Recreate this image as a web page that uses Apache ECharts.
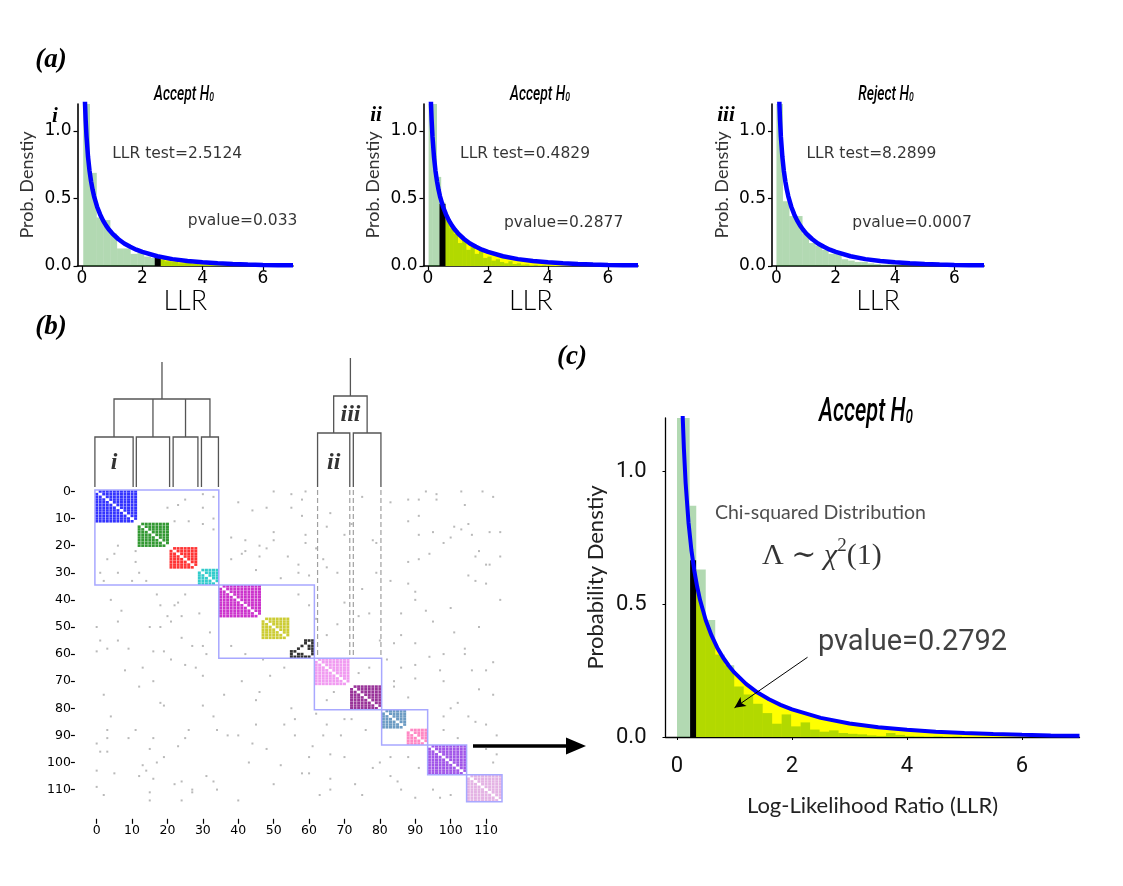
<!DOCTYPE html>
<html lang="en">
<head>
  <meta charset="UTF-8">
  <title>LLR test figure</title>
  <style>
    html, body { margin: 0; padding: 0; background: #fff; }
    #chart { width: 1123px; height: 886px; }
  </style>
</head>
<body>
  <div id="chart"></div>
  <script src="https://cdn.jsdelivr.net/npm/echarts@6/dist/echarts.min.js"></script>
  <script>
    const chart = echarts.init(document.getElementById('chart'));

    // chi-squared(1) density
    const curveX = [0.05, 0.07, 0.085, 0.1, 0.12, 0.15, 0.2, 0.25, 0.3, 0.35, 0.4, 0.5, 0.6, 0.7, 0.8, 0.9, 1.0,
      1.2, 1.4, 1.6, 1.8, 2.0, 2.5, 3.0, 3.5, 4.0, 4.5, 5.0, 5.5, 6.0, 6.5, 7.0];
    const curveY = [1.74, 1.46, 1.31, 1.2, 1.085, 0.956, 0.807, 0.704, 0.627, 0.566, 0.516, 0.439, 0.382, 0.336, 0.299, 0.268, 0.242,
      0.2, 0.167, 0.142, 0.121, 0.104, 0.072, 0.051, 0.037, 0.027, 0.02, 0.015, 0.011, 0.008, 0.006, 0.005];

    // panel (a) histograms: first edge, bin width, bar heights
    const histStart = [0.04, 0.02, 0.0];
    const histWidth = [0.225, 0.14, 0.22];
    const histI = [1.5, 0.69, 0.36, 0.34, 0.24, 0.13, 0.13, 0.09, 0.1, 0.07, 0.06, 0.045, 0.035, 0.03, 0.02, 0.025,
      0.015, 0.012, 0.01, 0.008, 0.006, 0.005, 0.004, 0.003];
    const histII = [1.6, 1.25, 0.66, 0.47, 0.34, 0.28, 0.24, 0.17, 0.19, 0.12, 0.14, 0.09, 0.11, 0.06, 0.07, 0.04,
      0.05, 0.03, 0.02, 0.035, 0.015, 0.02, 0.01, 0.012, 0.005, 0.008, 0.004, 0.006, 0.003, 0.002];
    const histIII = [1.5, 0.48, 0.37, 0.37, 0.24, 0.17, 0.15, 0.12, 0.09, 0.09, 0.05, 0.04, 0.03, 0.03, 0.02, 0.015,
      0.01, 0.012, 0.006, 0.005, 0.004];
    const histA = [histI, histII, histIII];

    const llrTest = [2.5124, 0.4829, 8.2899];
    const llrDensity = [0.075, 0.46, null];
    const pValues = ['0.033', '0.2877', '0.0007'];
    const verdicts = ['Accept', 'Accept', 'Reject'];
    const romans = ['i', 'ii', 'iii'];

    // panel (c) histogram
    const cEdges = [0.0, 0.22, 0.335, 0.5, 0.665, 0.83, 0.995, 1.16, 1.325, 1.49, 1.655, 1.82, 1.985, 2.15, 2.315, 2.48,
      2.645, 2.81, 2.975, 3.14, 3.305, 3.47, 3.635, 3.8, 3.965, 4.13, 4.295, 4.46, 4.625, 4.79, 4.955];
    const cHeights = [1.6, 0.87, 0.63, 0.44, 0.31, 0.27, 0.19, 0.16, 0.125, 0.09, 0.05, 0.085, 0.04, 0.055, 0.028, 0.02,
      0.025, 0.015, 0.012, 0.01, 0.006, 0.004, 0.015, 0.008, 0.004, 0.003, 0.002, 0.003, 0.001, 0.002];
    const cTest = 0.28;
    const cDensity = 0.665;
    const cPvalue = '0.2792';

    // panel (b): node clusters of the adjacency matrix
    const clusterBox = [[0, 34], [35, 61], [62, 80], [81, 93], [94, 104], [105, 114]];
    const blocks = [[0, 11], [12, 20], [21, 28], [29, 34], [35, 46], [47, 54], [62, 71], [72, 80], [81, 87], [88, 93], [94, 104], [105, 114]];
    const blockColors = ['#0000ff', '#008000', '#ff0000', '#00bfbf', '#bf00bf', '#bfbf00', '#ee82ee', '#800080', '#4682b4', '#ff69b4', '#8a2be2', '#dda0dd'];
    const blackEdges = [[55, 59], [55, 60], [55, 61], [56, 61], [57, 61], [58, 61], [59, 61], [60, 61], [57, 60], [58, 60], [56, 59], [57, 58]];
    // off-block links [row, col], upper triangle
    const noiseEdges = [
      [0, 50], [1, 55], [0, 59], [0, 93], [1, 96], [0, 109], [2, 112], [5, 104], [3, 96], [4, 83], [2, 75], [8, 66], [9, 58], [6, 48],
      [1, 30], [3, 25], [5, 23], [6, 20], [2, 33], [6, 30], [10, 33], [4, 40], [7, 44],
      [11, 22], [11, 26], [12, 30], [14, 33], [13, 65], [15, 50], [18, 50], [16, 59], [19, 59], [19, 79], [15, 95], [14, 103],
      [12, 105], [15, 111], [15, 114], [13, 101], [17, 38], [18, 42], [20, 46], [16, 70], [11, 88],
      [21, 62], [22, 108], [24, 107], [27, 110], [27, 111], [24, 114], [23, 94], [26, 88], [28, 65], [30, 68], [30, 79], [31, 105],
      [33, 107], [34, 110], [34, 88], [33, 83], [22, 42], [24, 46], [24, 54], [23, 41], [27, 57], [29, 45], [32, 52], [25, 38], [31, 60],
      [37, 90], [43, 100], [40, 114], [44, 93], [45, 86], [40, 90], [36, 75], [45, 77], [46, 74], [49, 68], [53, 65], [52, 101],
      [56, 84], [56, 90], [53, 86], [38, 57], [42, 60], [48, 95], [50, 108], [55, 80], [58, 104], [60, 98], [41, 70], [47, 62],
      [61, 94], [60, 104], [63, 112], [66, 106], [66, 110], [64, 90], [65, 86], [70, 98], [66, 97], [78, 102], [80, 100], [83, 105],
      [83, 98], [88, 98], [91, 102], [76, 88], [70, 84], [72, 84], [65, 77], [67, 74], [69, 90], [62, 82], [73, 108], [75, 112],
      [86, 110], [90, 113], [85, 107], [95, 110], [97, 113], [100, 112],
      [21, 48], [30, 57], [25, 64], [12, 72], [18, 78], [3, 88], [3, 91], [9, 91], [16, 91], [25, 91], [19, 98], [17, 100],
      [0, 103], [16, 106], [6, 55], [3, 58]
    ];
    const matrixTicks = [0, 10, 20, 30, 40, 50, 60, 70, 80, 90, 100, 110];

    // dendrogram: leaf spans and merge heights
    const leftLeaves = [[-0.5, 10.3], [11.2, 20.6], [21.6, 28.6], [29.6, 34.4]];
    const rightLeaves = [[62.4, 71.5], [72.5, 80.3]];
    const leftLevels = [50, 88, 125];
    const rightLevels = [54, 91, 129];

    const curve = curveX.map((x, i) => [x, curveY[i]]);
    const tailOf = (t, d) => [[t, d]].concat(curve.filter(p => p[0] > t));

    function treePaths(leaves, lv) {
      const paths = leaves.map(l => [[l[0], 0], [l[0], lv[0]], [l[1], lv[0]], [l[1], 0]]);
      const mids = leaves.map(l => (l[0] + l[1]) / 2);
      const a = mids[0], b = mids[mids.length - 1];
      paths.push([[a, lv[0]], [a, lv[1]], [b, lv[1]], [b, lv[0]]]);
      mids.slice(1, -1).forEach(m => paths.push([[m, lv[0]], [m, lv[1]]]));
      paths.push([[(a + b) / 2, lv[1]], [(a + b) / 2, lv[2]]]);
      return paths;
    }
    const dendroPaths = treePaths(leftLeaves, leftLevels).concat(treePaths(rightLeaves, rightLevels));

    function renderBars(params, api) {
      const p0 = api.coord([api.value(0), 0]);
      const p1 = api.coord([api.value(1), api.value(2)]);
      const cs = params.coordSys;
      const rect = echarts.graphic.clipRectByRect(
        { x: p0[0], y: p1[1], width: p1[0] - p0[0], height: p0[1] - p1[1] },
        { x: cs.x, y: cs.y, width: cs.width, height: cs.height });
      return rect && { type: 'rect', shape: rect, style: { fill: 'rgba(0,128,0,0.3)' } };
    }

    const sans = 'DejaVu Sans';
    const light = 'Lato';
    const serif = "'Liberation Serif', 'DejaVu Serif', serif";

    const grids = [
      { left: 77.5, top: 104, width: 215.5, height: 162 },
      { left: 423.5, top: 104, width: 214.5, height: 162 },
      { left: 772, top: 104, width: 212, height: 162 },
      { left: 665.5, top: 418, width: 414, height: 319 },
      { left: 94.9, top: 490.1, width: 407.1, height: 311.7 },
      { left: 94.9, top: 357, width: 407.1, height: 130 }
    ].map(g => Object.assign({ containLabel: false, outerBoundsMode: 'none' }, g));

    const xAxis = [];
    const yAxis = [];
    for (let k = 0; k < 3; k++) {
      xAxis.push({
        gridIndex: k, type: 'value', min: -0.15, max: 7,
        axisLine: { show: true, onZero: false, lineStyle: { color: '#000', width: 1.6 } },
        axisTick: { show: true, customValues: [0, 2, 4, 6], length: 4, lineStyle: { color: '#000', width: 1.2 } },
        axisLabel: { customValues: [0, 2, 4, 6], fontFamily: sans, fontSize: 17, color: '#000', margin: 4 },
        splitLine: { show: false },
        name: 'LLR', nameLocation: 'middle', nameGap: 20,
        nameTextStyle: { fontFamily: light, fontWeight: 300, fontSize: 27, color: '#000' }
      });
      yAxis.push({
        gridIndex: k, type: 'value', min: 0, max: 1.2,
        axisLine: { show: true, onZero: false, lineStyle: { color: '#000', width: 1.6 } },
        axisTick: { show: true, customValues: [0, 0.5, 1], length: 4, lineStyle: { color: '#000', width: 1.2 } },
        axisLabel: { customValues: [0, 0.5, 1], formatter: v => v.toFixed(1), fontFamily: sans, fontSize: 17, color: '#000', margin: 6 },
        splitLine: { show: false },
        name: 'Prob. Denstiy', nameLocation: 'middle', nameGap: 41, nameRotate: 90,
        nameTextStyle: { fontFamily: light, fontSize: 18, color: '#333' }
      });
    }
    xAxis.push({
      gridIndex: 3, type: 'value', min: -0.2, max: 7,
      axisLine: { show: true, onZero: false, lineStyle: { color: '#000', width: 1.3 } },
      axisTick: { show: true, customValues: [0, 2, 4, 6], length: 3, lineStyle: { color: '#000' } },
      axisLabel: { customValues: [0, 2, 4, 6], fontFamily: 'Roboto', fontSize: 22, color: '#111', margin: 18 },
      splitLine: { show: false },
      name: 'Log-Likelihood Ratio (LLR)', nameLocation: 'middle', nameGap: 58,
      nameTextStyle: { fontFamily: light, fontSize: 22, color: '#222' }
    });
    yAxis.push({
      gridIndex: 3, type: 'value', min: 0, max: 1.2,
      axisLine: { show: true, onZero: false, lineStyle: { color: '#000', width: 1.3 } },
      axisTick: { show: true, customValues: [0, 0.5, 1], length: 3, lineStyle: { color: '#000' } },
      axisLabel: { customValues: [0, 0.5, 1], formatter: v => v.toFixed(1), fontFamily: 'Roboto', fontSize: 22, color: '#111', margin: 19 },
      splitLine: { show: false },
      name: 'Probability Denstiy', nameLocation: 'middle', nameGap: 59, nameRotate: 90,
      nameTextStyle: { fontFamily: light, fontSize: 22, color: '#222' }
    });
    // matrix axes
    xAxis.push({
      gridIndex: 4, type: 'value', min: -0.5, max: 114.5, offset: 17,
      axisLine: { show: false, onZero: false },
      axisTick: { show: true, customValues: matrixTicks, length: 5, lineStyle: { color: '#000', width: 1.2 } },
      axisLabel: { customValues: matrixTicks, fontFamily: sans, fontSize: 12.5, color: '#000', margin: 5 },
      splitLine: { show: false }
    });
    yAxis.push({
      gridIndex: 4, type: 'value', min: -0.5, max: 114.5, inverse: true, offset: 20,
      axisLine: { show: false, onZero: false },
      axisTick: { show: true, customValues: matrixTicks, length: 4, lineStyle: { color: '#000', width: 1.2 } },
      axisLabel: { customValues: matrixTicks, fontFamily: sans, fontSize: 12.5, color: '#000', margin: 4 },
      splitLine: { show: false }
    });
    // dendrogram axes
    xAxis.push({ gridIndex: 5, type: 'value', min: -0.5, max: 114.5, show: false });
    yAxis.push({ gridIndex: 5, type: 'value', min: 0, max: 130, show: false });

    const series = [];
    for (let k = 0; k < 3; k++) {
      const t = llrTest[k];
      const ax = { xAxisIndex: k, yAxisIndex: k, silent: true };
      if (t < 7) {
        series.push(Object.assign({
          type: 'line', data: tailOf(t, llrDensity[k]), symbol: 'none',
          lineStyle: { width: 0 }, areaStyle: { color: '#ffff00', opacity: 1 }, z: 1
        }, ax));
      }
      series.push(Object.assign({
        type: 'custom', renderItem: renderBars, encode: { x: [0, 1], y: 2 }, z: 2,
        data: histA[k].map((h, i) => [histStart[k] + i * histWidth[k], histStart[k] + (i + 1) * histWidth[k], h])
      }, ax));
      if (t < 7) {
        series.push(Object.assign({
          type: 'line', data: [[t, 0], [t, llrDensity[k]]], symbol: 'none',
          lineStyle: { color: '#000', width: 6, cap: 'butt' }, z: 3
        }, ax));
      }
      series.push(Object.assign({
        type: 'line', data: curve, symbol: 'none', lineStyle: { color: '#0000ff', width: 4.5 }, z: 4
      }, ax));
      const notePos = [[[1.0, 0.83], [3.51, 0.33]], [[1.07, 0.83], [2.53, 0.32]], [[1.01, 0.83], [2.56, 0.32]]][k];
      series.push(Object.assign({
        type: 'scatter', symbolSize: 0, z: 5,
        data: [
          { value: notePos[0], name: 'LLR test=' + t.toFixed(4) },
          { value: notePos[1], name: 'pvalue=' + pValues[k] }
        ],
        label: { show: true, position: 'right', distance: 0, formatter: '{b}', fontFamily: sans, fontSize: 15.5, color: '#000' }
      }, ax));
    }

    // panel (c)
    const cx = { xAxisIndex: 3, yAxisIndex: 3, silent: true };
    series.push(Object.assign({
      type: 'line', data: tailOf(cTest, cDensity), symbol: 'none',
      lineStyle: { width: 0 }, areaStyle: { color: '#ffff00', opacity: 1 }, z: 1
    }, cx));
    series.push(Object.assign({
      type: 'custom', renderItem: renderBars, encode: { x: [0, 1], y: 2 }, z: 2,
      data: cHeights.map((h, i) => [cEdges[i], cEdges[i + 1], h])
    }, cx));
    series.push(Object.assign({
      type: 'line', data: [[cTest, 0], [cTest, cDensity]], symbol: 'none',
      lineStyle: { color: '#000', width: 6, cap: 'butt' }, z: 3
    }, cx));
    series.push(Object.assign({
      type: 'line', data: curve, symbol: 'none', lineStyle: { color: '#0000ff', width: 4 }, z: 4
    }, cx));
    series.push(Object.assign({
      type: 'scatter', symbolSize: 0, z: 5,
      data: [
        { value: [0.66, 0.842], name: 'Chi-squared Distribution',
          label: { fontFamily: light, fontSize: 19.5, color: '#222' } },
        { value: [1.48, 0.68], name: 'math',
          label: {
            formatter: '{u|Λ ∼ }{i|χ}{s|2}{u|(1)}',
            rich: {
              u: { fontFamily: serif, fontSize: 30, lineHeight: 40, color: '#000' },
              i: { fontFamily: serif, fontStyle: 'italic', fontSize: 30, lineHeight: 40, color: '#000' },
              s: { fontFamily: serif, fontSize: 19, lineHeight: 22, verticalAlign: 'top', color: '#000' }
            }
          } },
        { value: [2.45, 0.353], name: 'pvalue=' + cPvalue,
          label: { fontFamily: 'Roboto', fontSize: 29, color: '#111' } }
      ],
      label: { show: true, position: 'right', distance: 0, formatter: '{b}' },
      markLine: {
        silent: true, symbol: ['none', 'arrow'], symbolSize: [8, 11], animation: false,
        lineStyle: { color: '#000', width: 1, type: 'solid' }, label: { show: false },
        data: [[{ coord: [2.27, 0.3] }, { coord: [1.0, 0.11] }]]
      }
    }, cx));

    // panel (b): matrix
    const mx = { xAxisIndex: 4, yAxisIndex: 4, silent: true };
    series.push(Object.assign({
      type: 'scatter', symbol: 'rect', symbolSize: 2, z: 1,
      itemStyle: { color: '#a8a8a8' },
      data: noiseEdges.flatMap(e => [[e[1], e[0]], [e[0], e[1]]])
    }, mx));
    blocks.forEach((b, n) => {
      const cells = [];
      for (let r = b[0]; r <= b[1]; r++) {
        for (let c = b[0]; c <= b[1]; c++) {
          if (r !== c) cells.push([c, r]);
        }
      }
      series.push(Object.assign({
        type: 'scatter', symbol: 'rect', symbolSize: [3, 2.6], z: 2,
        itemStyle: { color: blockColors[n] }, data: cells
      }, mx));
    });
    series.push(Object.assign({
      type: 'scatter', symbol: 'rect', symbolSize: [3, 2.6], z: 2,
      itemStyle: { color: '#000' },
      data: blackEdges.flatMap(e => [[e[1], e[0]], [e[0], e[1]]])
    }, mx));
    series.push(Object.assign({
      type: 'custom', z: 3, encode: { x: 0, y: 1 },
      data: clusterBox,
      renderItem: (params, api) => {
        const a = api.coord([api.value(0) - 0.5, api.value(0) - 0.5]);
        const b = api.coord([api.value(1) + 0.5, api.value(1) + 0.5]);
        return { type: 'rect', shape: { x: a[0], y: a[1], width: b[0] - a[0], height: b[1] - a[1] },
          style: { fill: 'none', stroke: '#a8a8ff', lineWidth: 1.5 } };
      }
    }, mx));
    series.push(Object.assign({
      type: 'custom', z: 3, encode: { x: 0 },
      data: rightLeaves.flat().map(v => [v]),
      renderItem: (params, api) => {
        const a = api.coord([api.value(0), -0.5]);
        const b = api.coord([api.value(0), 61.5]);
        return { type: 'line', shape: { x1: a[0], y1: a[1], x2: b[0], y2: b[1] },
          style: { stroke: '#a0a0a0', lineWidth: 1.2, lineDash: [5, 3] } };
      }
    }, mx));

    // dendrogram
    series.push({
      type: 'custom', xAxisIndex: 5, yAxisIndex: 5, silent: true, encode: { x: 0, y: 1 },
      data: dendroPaths.map(p => p[0]),
      renderItem: (params, api) => ({
        type: 'polyline',
        shape: { points: dendroPaths[params.dataIndex].map(p => api.coord(p)) },
        style: { fill: 'none', stroke: '#555', lineWidth: 1.3 }
      })
    });
    series.push({
      type: 'scatter', xAxisIndex: 5, yAxisIndex: 5, silent: true, symbolSize: 0,
      data: [
        { value: [4.9, 24], name: 'i' },
        { value: [66.95, 24], name: 'ii' },
        { value: [71.7, 72], name: 'iii' }
      ],
      label: { show: true, position: 'inside', formatter: '{b}', fontFamily: serif, fontStyle: 'italic', fontWeight: 'bold', fontSize: 24, color: '#000' }
    });

    // condensed italic titles, squeezed horizontally
    function titleText(x, y, verdict, size) {
      return {
        type: 'text', x: x, y: y, scaleX: 0.66,
        style: {
          text: '{t|' + verdict + ' H}{s|0}', align: 'center', verticalAlign: 'middle',
          rich: {
            t: { fontFamily: 'Roboto', fontStyle: 'italic', fontWeight: 500, fontSize: size, lineHeight: size * 1.2, verticalAlign: 'middle', fill: '#000' },
            s: { fontFamily: 'Roboto', fontStyle: 'italic', fontWeight: 500, fontSize: size * 0.62, lineHeight: size * 0.62, padding: [size * 0.3, 0, 0, 0], verticalAlign: 'middle', fill: '#000' }
          }
        }
      };
    }
    const bigSerif = { fontFamily: serif, fontStyle: 'italic', fontWeight: 'bold', fill: '#000', align: 'center', verticalAlign: 'middle' };

    const option = {
      backgroundColor: '#fff',
      animation: false,
      grid: grids,
      xAxis: xAxis,
      yAxis: yAxis,
      series: series,
      graphic: [
        { type: 'text', x: 51, y: 60, style: Object.assign({ text: '(a)', fontSize: 27 }, bigSerif) },
        { type: 'text', x: 51, y: 327, style: Object.assign({ text: '(b)', fontSize: 27 }, bigSerif) },
        { type: 'text', x: 572, y: 357, style: Object.assign({ text: '(c)', fontSize: 27 }, bigSerif) },
        { type: 'text', x: 55, y: 117, style: Object.assign({ text: romans[0], fontSize: 21 }, bigSerif) },
        { type: 'text', x: 376, y: 116, style: Object.assign({ text: romans[1], fontSize: 21 }, bigSerif) },
        { type: 'text', x: 726, y: 116, style: Object.assign({ text: romans[2], fontSize: 21 }, bigSerif) },
        titleText(184, 95, verdicts[0], 21),
        titleText(540, 95, verdicts[1], 21),
        titleText(886, 95, verdicts[2], 21),
        titleText(866, 413, 'Accept', 33),
        { type: 'line', shape: { x1: 473, y1: 746, x2: 570, y2: 746 }, style: { stroke: '#000', lineWidth: 3.3 } },
        { type: 'polygon', shape: { points: [[566, 737.5], [586, 746], [566, 754.5]] }, style: { fill: '#000' } }
      ]
    };
    chart.setOption(option);
  </script>
</body>
</html>
